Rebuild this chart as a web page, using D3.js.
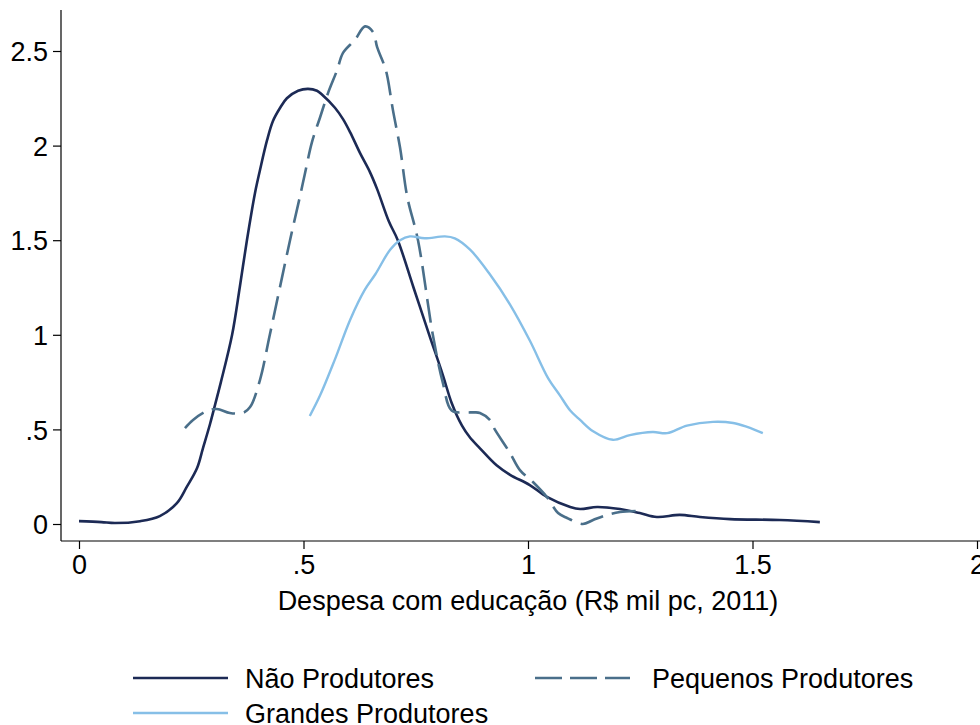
<!DOCTYPE html>
<html>
<head>
<meta charset="utf-8">
<script src="https://cdn.jsdelivr.net/npm/d3@7"></script>
<style>
  body { margin: 0; background: #fff; }
  text { font-family: "Liberation Sans", Arial, sans-serif; fill: #000; }
</style>
</head>
<body>
<svg id="chart" width="980" height="725"></svg>
<script>
// densidades (x = despesa, y = densidade)
var naoX = [0, 0.05, 0.08, 0.136, 0.18, 0.218, 0.24, 0.263, 0.276, 0.292, 0.303, 0.316, 0.341, 0.358, 0.374, 0.392, 0.403, 0.419, 0.432, 0.448, 0.463, 0.488, 0.51, 0.53, 0.541, 0.57, 0.588, 0.604, 0.626, 0.648, 0.664, 0.69, 0.71, 0.745, 0.78, 0.81, 0.83, 0.853, 0.87, 0.893, 0.93, 0.96, 1.004, 1.042, 1.094, 1.116, 1.154, 1.205, 1.249, 1.287, 1.338, 1.383, 1.45, 1.561, 1.65];
var naoY = [0.015, 0.01, 0.005, 0.015, 0.042, 0.11, 0.196, 0.296, 0.4, 0.53, 0.63, 0.75, 1.0, 1.25, 1.5, 1.75, 1.87, 2.03, 2.13, 2.2, 2.25, 2.29, 2.3, 2.29, 2.27, 2.2, 2.14, 2.07, 1.96, 1.86, 1.77, 1.6, 1.5, 1.25, 1.0, 0.79, 0.64, 0.52, 0.46, 0.4, 0.31, 0.26, 0.206, 0.143, 0.09, 0.079, 0.09, 0.079, 0.058, 0.037, 0.048, 0.037, 0.026, 0.021, 0.01];

var pequenosX = [0.236, 0.254, 0.285, 0.307, 0.336, 0.365, 0.381, 0.403, 0.425, 0.47, 0.492, 0.503, 0.519, 0.537, 0.555, 0.575, 0.588, 0.615, 0.637, 0.655, 0.664, 0.682, 0.688, 0.699, 0.715, 0.731, 0.755, 0.788, 0.81, 0.83, 0.86, 0.88, 0.893, 0.915, 0.926, 0.96, 0.982, 1.011, 1.042, 1.067, 1.087, 1.122, 1.145, 1.176, 1.205, 1.245];
var pequenosY = [0.507, 0.55, 0.597, 0.608, 0.587, 0.587, 0.618, 0.761, 1.0, 1.5, 1.73, 1.85, 2.02, 2.15, 2.28, 2.4, 2.49, 2.56, 2.63, 2.6, 2.52, 2.41, 2.35, 2.19, 1.99, 1.73, 1.5, 1.0, 0.75, 0.6, 0.59, 0.59, 0.587, 0.55, 0.5, 0.375, 0.285, 0.222, 0.143, 0.058, 0.032, 0.0, 0.021, 0.048, 0.063, 0.069];

var grandesX = [0.514, 0.537, 0.57, 0.604, 0.637, 0.66, 0.693, 0.715, 0.737, 0.77, 0.815, 0.837, 0.871, 0.915, 0.96, 1.004, 1.045, 1.071, 1.094, 1.116, 1.145, 1.189, 1.227, 1.278, 1.31, 1.354, 1.412, 1.457, 1.488, 1.523];
var grandesY = [0.571, 0.68, 0.87, 1.08, 1.24, 1.32, 1.45, 1.5, 1.52, 1.51, 1.52, 1.51, 1.45, 1.32, 1.16, 0.97, 0.77, 0.68, 0.6, 0.55, 0.49, 0.445, 0.47, 0.486, 0.48, 0.52, 0.54, 0.534, 0.513, 0.48];

var xTicks = [0, 0.5, 1, 1.5, 2];
var yTicks = [0, 0.5, 1, 1.5, 2, 2.5];

var series = [
  { name: "Não Produtores", xs: naoX, ys: naoY, color: "#1c2a55", dash: null, width: 2.6 },
  { name: "Pequenos Produtores", xs: pequenosX, ys: pequenosY, color: "#4a6f8a", dash: "24,9", width: 2.6 },
  { name: "Grandes Produtores", xs: grandesX, ys: grandesY, color: "#86bfe7", dash: null, width: 2.4 }
];

var svg = d3.select("#chart");

var x = d3.scaleLinear().domain([0, 2]).range([79, 977]);
var y = d3.scaleLinear().domain([0, 2.5]).range([524, 51]);

var fmt = function(d) {
  if (d === 0) return "0";
  return d < 1 ? String(d).replace(/^0/, "") : String(d);
};

// eixos
var axisColor = "#000";
svg.append("line").attr("x1", 61).attr("x2", 61).attr("y1", 10).attr("y2", 541)
  .attr("stroke", axisColor).attr("stroke-width", 1.2);
svg.append("line").attr("x1", 61).attr("x2", 980).attr("y1", 541).attr("y2", 541)
  .attr("stroke", axisColor).attr("stroke-width", 1.2);

var yAxis = svg.append("g")
  .attr("transform", "translate(61,0)")
  .call(d3.axisLeft(y).tickValues(yTicks).tickFormat(fmt).tickSize(8).tickPadding(5));
var xAxis = svg.append("g")
  .attr("transform", "translate(0,541)")
  .call(d3.axisBottom(x).tickValues(xTicks).tickFormat(fmt).tickSize(8).tickPadding(6));

[xAxis, yAxis].forEach(function(g) {
  g.select(".domain").remove();
  g.selectAll("text").style("font-size", "27px").style("font-family", "Liberation Sans, Arial, sans-serif");
  g.selectAll("line").attr("stroke-width", 1.2);
});
yAxis.selectAll("text").attr("dy", "0.36em");

svg.append("text")
  .attr("x", 528).attr("y", 610)
  .attr("text-anchor", "middle")
  .style("font-size", "27px")
  .text("Despesa com educação (R$ mil pc, 2011)");

// curvas
var line = d3.line()
  .x(function(d) { return x(d[0]); })
  .y(function(d) { return y(d[1]); })
  .curve(d3.curveCatmullRom.alpha(0.5));

series.forEach(function(s) {
  var pts = s.xs.map(function(v, i) { return [v, s.ys[i]]; });
  svg.append("path")
    .datum(pts)
    .attr("d", line)
    .attr("fill", "none")
    .attr("stroke", s.color)
    .attr("stroke-width", s.width)
    .attr("stroke-dasharray", s.dash)
    .attr("stroke-linejoin", "round");
});

// legenda
var legendPos = [
  { x: 133, y: 678 },
  { x: 535, y: 678 },
  { x: 133, y: 713 }
];
series.forEach(function(s, i) {
  var p = legendPos[i];
  svg.append("line")
    .attr("x1", p.x).attr("x2", p.x + 95)
    .attr("y1", p.y).attr("y2", p.y)
    .attr("stroke", s.color)
    .attr("stroke-width", s.width)
    .attr("stroke-dasharray", s.dash ? "27,8" : null);
  svg.append("text")
    .attr("x", p.x + (i === 1 ? 117 : 112)).attr("y", p.y)
    .attr("dy", "0.36em")
    .style("font-size", "27px")
    .text(s.name);
});
</script>
</body>
</html>
